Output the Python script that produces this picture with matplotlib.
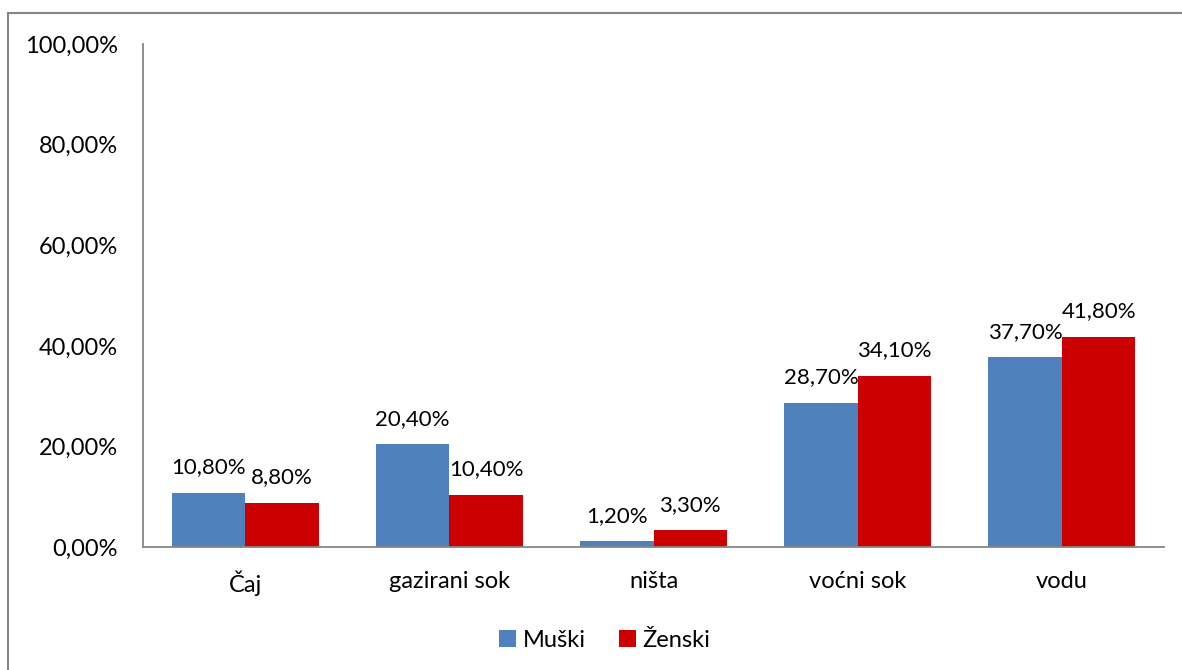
import numpy as np
import matplotlib.pyplot as plt
from matplotlib.patches import Rectangle

categories = ['Čaj', 'gazirani sok', 'ništa', 'voćni sok', 'vodu']
muski = [10.8, 20.4, 1.2, 28.7, 37.7]
zenski = [8.8, 10.4, 3.3, 34.1, 41.8]
series_names = ['Muški', 'Ženski']
yticks = [0, 20, 40, 60, 80, 100]

plt.rcParams['font.family'] = ['Lato', 'DejaVu Sans']

def pct(v):
    return f'{v:.2f}%'.replace('.', ',')

fig = plt.figure(figsize=(11.82, 6.7), dpi=100)
ax = fig.add_axes([0.121, 0.1836, 0.8638, 0.7504])

x = np.arange(len(categories))
w = 0.36
b1 = ax.bar(x - w / 2, muski, w, color='#4F81BD', label=series_names[0])
b2 = ax.bar(x + w / 2, zenski, w, color='#CC0000', label=series_names[1])

for bars, vals in ((b1, muski), (b2, zenski)):
    for r, v in zip(bars, vals):
        ax.annotate(pct(v), (r.get_x() + r.get_width() / 2, v),
                    xytext=(0, 11), textcoords='offset points',
                    ha='center', va='bottom', fontsize=16)

ax.set_xlim(-0.5, len(categories) - 0.5)
ax.set_ylim(0, 100)
ax.set_yticks(yticks)
ax.set_yticklabels([pct(v) for v in yticks], fontsize=17)
ax.set_xticks(x)
ax.set_xticklabels(categories, fontsize=17)
ax.tick_params(axis='y', length=0, pad=18)
ax.tick_params(axis='x', length=0, pad=17)
for s in ('top', 'right'):
    ax.spines[s].set_visible(False)
for s in ('left', 'bottom'):
    ax.spines[s].set_color('#868686')
    ax.spines[s].set_linewidth(1.3)

ax.legend(loc='center', bbox_to_anchor=(0.4525, -0.186), ncol=2, frameon=False,
          fontsize=17, handlelength=0.7, handleheight=0.7,
          handletextpad=0.3, columnspacing=1.4)

fig.patches.append(Rectangle((8 / 1182, -0.1), 1.2, 1 - 13 / 670 + 0.1,
                             transform=fig.transFigure, fill=False,
                             edgecolor='#868686', linewidth=1.5))

fig.savefig('out.png', dpi=100)
